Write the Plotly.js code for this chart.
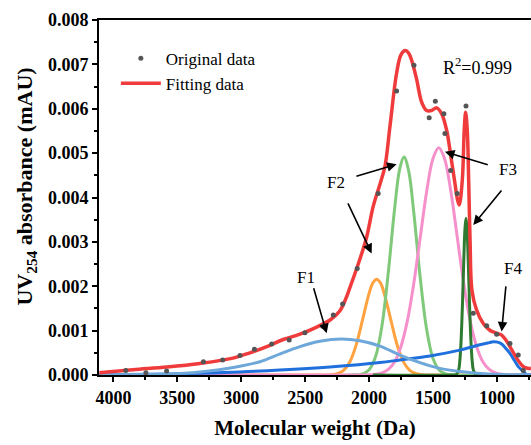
<!DOCTYPE html>
<html><head><meta charset="utf-8">
<script src="https://cdn.plot.ly/plotly-3.0.1.min.js"></script>
<style>html,body{margin:0;padding:0;background:#fff}#chart{width:531px;height:445px}</style>
</head><body><div id="chart"></div>
<script>
// Original data (dots)
const origX = [3903, 3746, 3584, 3296, 3146, 3010, 2897, 2762, 2625, 2502, 2363, 2280, 2207, 2093, 1929, 1785, 1649, 1530, 1482, 1415, 1407, 1362, 1311, 1242, 1185, 1080, 1002, 898, 833, 794];
const origY = [0.0001, 0.00005, 0.00009, 0.0003, 0.00034, 0.00044, 0.00058, 0.0007, 0.00079, 0.00095, 0.0011, 0.00135, 0.0016, 0.0024, 0.00409, 0.0064, 0.00698, 0.0058, 0.00617, 0.00589, 0.00544, 0.00461, 0.00409, 0.00606, 0.00139, 0.00111, 0.00092, 0.00071, 0.00045, 0.0001];

// Fitting data (red)
const fitX = [4110, 3847, 3581, 3323, 3065, 2932, 2800, 2672, 2541, 2410, 2300, 2228, 2185, 2150, 2085, 2020, 1968, 1915, 1876, 1837, 1785, 1750, 1716, 1690, 1667, 1628, 1589, 1550, 1511, 1472, 1433, 1393, 1360, 1330, 1310, 1295, 1271, 1256, 1245, 1232, 1221, 1210, 1195, 1159, 1107, 1060, 1029, 990, 963, 930, 898, 846, 794, 760, 734];
const fitY = [0.00005, 0.00012, 0.00018, 0.00026, 0.00038, 0.0005, 0.00064, 0.0008, 0.00092, 0.00108, 0.00125, 0.00145, 0.0017, 0.00197, 0.0025, 0.0031, 0.0038, 0.0043, 0.0047, 0.0056, 0.0068, 0.00722, 0.00731, 0.00725, 0.00709, 0.00666, 0.00615, 0.00596, 0.00596, 0.00602, 0.00589, 0.00551, 0.00492, 0.00435, 0.00397, 0.00383, 0.00439, 0.00551, 0.00592, 0.00551, 0.00439, 0.0030, 0.0019, 0.00146, 0.00116, 0.00102, 0.00097, 0.00093, 0.0009, 0.00079, 0.00064, 0.00038, 0.00019, 0.00015, 0.00015];

// F1 (light blue)
const f1X = [4110, 3800, 3584, 3323, 3063, 2854, 2700, 2541, 2385, 2215, 2072, 1915, 1759, 1602, 1446, 1289, 1100, 950, 734];
const f1Y = [0.000005, 0.00001, 0.00002, 0.00007, 0.00017, 0.0003, 0.00047, 0.00064, 0.00076, 0.00081, 0.00077, 0.00065, 0.00045, 0.00028, 0.00015, 0.00008, 0.00003, 0.00001, 0.000003];

// F2 (orange)
const f2aX = [4110, 2400, 2300, 2250, 2200, 2150, 2100, 2050, 2000, 1970, 1941, 1910, 1880, 1830, 1780, 1730, 1680, 1630, 1580, 1500, 734];
const f2aY = [0, 0, 0.000006, 0.000028, 0.000103, 0.0003, 0.00069, 0.00126, 0.00184, 0.00208, 0.00216, 0.00207, 0.00182, 0.00124, 0.00067, 0.00029, 0.000098, 0.000027, 0.000005, 0, 0];

// F2 (light green)
const f2bX = [4110, 2150, 2050, 2000, 1950, 1900, 1850, 1800, 1760, 1727, 1690, 1650, 1600, 1550, 1500, 1450, 1400, 1330, 734];
const f2bY = [0, 0, 0.000027, 0.000118, 0.00041, 0.0011, 0.00231, 0.00376, 0.00465, 0.00491, 0.00459, 0.00365, 0.00219, 0.00103, 0.00037, 0.000106, 0.000023, 0, 0];

// F3 (pink)
const f3aX = [4110, 2050, 2000, 1950, 1900, 1850, 1800, 1750, 1700, 1650, 1600, 1550, 1500, 1455, 1410, 1360, 1310, 1260, 1210, 1160, 1110, 1060, 1010, 960, 900, 734];
const f3aY = [0, 0, 0.000004, 0.000015, 0.000046, 0.000125, 0.0003, 0.00065, 0.00123, 0.00207, 0.0031, 0.00413, 0.00488, 0.00512, 0.00488, 0.00413, 0.0031, 0.00207, 0.00123, 0.00065, 0.0003, 0.000125, 0.000046, 0.000015, 0.000003, 0];

// F3 (dark green)
const f3bX = [1970, 1340, 1320, 1300, 1290, 1280, 1270, 1260, 1250, 1242, 1234, 1224, 1214, 1204, 1194, 1184, 1164, 1100];
const f3bY = [0, 0, 0.000006, 0.00011, 0.00033, 0.0008, 0.00157, 0.00252, 0.0033, 0.00353, 0.0033, 0.00252, 0.00157, 0.0008, 0.00033, 0.00011, 0.000006, 0];

// F4 (blue)
const f4X = [4110, 3480, 3010, 2698, 2306, 1915, 1759, 1524, 1290, 1134, 1060, 1029, 995, 963, 930, 898, 866, 833, 794, 765, 734];
const f4Y = [0.00001, 0.00003, 0.00007, 0.00011, 0.00018, 0.00028, 0.00034, 0.00043, 0.00056, 0.00068, 0.00073, 0.00075, 0.00074, 0.0007, 0.0006, 0.00049, 0.00034, 0.00019, 0.00008, 0.00001, 0];

// Ticks
const xTicks = [4000, 3500, 3000, 2500, 2000, 1500, 1000];
const yTicks = [0, 0.001, 0.002, 0.003, 0.004, 0.005, 0.006, 0.007, 0.008];
const yTickLabels = ['0.000', '0.001', '0.002', '0.003', '0.004', '0.005', '0.006', '0.007', '0.008'];

const FONT = 'Liberation Serif, "Times New Roman", serif';
const LW = 3;
function comp(x, y, color, name) {
  return {x: x, y: y, type: 'scatter', mode: 'lines', name: name, showlegend: false,
    line: {color: color, width: LW, shape: 'spline', smoothing: 1}, hoverinfo: 'skip'};
}
const data = [
  comp(f2aX, f2aY, '#ffa23f', 'F2a'),
  comp(f2bX, f2bY, '#80c97b', 'F2b'),
  comp(f3aX, f3aY, '#f590cb', 'F3a'),
  comp(f3bX, f3bY, '#2e7a30', 'F3b'),
  comp(f4X, f4Y, '#1f6fdd', 'F4'),
  comp(f1X, f1Y, '#6ea7d9', 'F1'),
  {x: fitX, y: fitY, type: 'scatter', mode: 'lines', name: 'Fitting data', legendrank: 2,
   line: {color: '#ef3b3b', width: 3.5, shape: 'spline', smoothing: 1}},
  {x: origX, y: origY, type: 'scatter', mode: 'markers', name: 'Original data', legendrank: 1,
   marker: {color: '#555555', size: 5}}
];

const tf = {family: FONT, size: 18, color: '#000', weight: 'bold'};
const lab = (text, x, y) => ({text: text, x: x, y: y, xref: 'x', yref: 'y', showarrow: false,
  font: {family: FONT, size: 17, color: '#000'}});
const arr = (x, y, ax, ay) => ({text: '', x: x, y: y, ax: ax, ay: ay, xref: 'x', yref: 'y', axref: 'x', ayref: 'y',
  showarrow: true, arrowhead: 2, arrowsize: 1.2, arrowwidth: 1.6, arrowcolor: '#000', standoff: 0, startstandoff: 0,
  font: {size: 1}});

const layout = {
  width: 531, height: 445,
  margin: {l: 99, r: 0, t: 20, b: 70},
  paper_bgcolor: '#fff', plot_bgcolor: '#fff',
  showlegend: true,
  legend: {x: 0.039, y: 0.942, xanchor: 'left', yanchor: 'top', bgcolor: 'rgba(0,0,0,0)',
    font: {family: FONT, size: 17, color: '#000'}, tracegroupgap: 0, itemwidth: 40},
  xaxis: {
    range: [4113, 733.5], tickmode: 'array', tickvals: xTicks, ticktext: xTicks.map(String),
    ticks: 'outside', ticklen: 5, tickwidth: 2, tickcolor: '#000',
    showline: true, linewidth: 2, linecolor: '#000', mirror: true, showgrid: false, zeroline: false,
    tickfont: tf,
    minor: {dtick: 250, tick0: 0, ticks: 'outside', ticklen: 3, tickwidth: 2, tickcolor: '#000', showgrid: false},
    title: {text: '<b>Molecular weight (Da)</b>', font: {family: FONT, size: 21, color: '#000'}, standoff: 14}
  },
  yaxis: {
    range: [0, 0.008], tickmode: 'array', tickvals: yTicks, ticktext: yTickLabels,
    ticks: 'outside', ticklen: 5, tickwidth: 2, tickcolor: '#000',
    showline: true, linewidth: 2, linecolor: '#000', mirror: false, showgrid: false, zeroline: false,
    tickfont: tf,
    minor: {dtick: 0.0005, tick0: 0, ticks: 'outside', ticklen: 3, tickwidth: 2, tickcolor: '#000', showgrid: false},
    title: {text: '&nbsp;&nbsp;&nbsp;&nbsp;<b>UV<sub>254</sub> absorbance (mAU)</b>', font: {family: FONT, size: 22, color: '#000'}, standoff: 9}
  },
  annotations: [
    {text: 'R<sup>2</sup>=0.999', x: 1149, y: 0.00696, xref: 'x', yref: 'y', showarrow: false,
     font: {family: FONT, size: 18, color: '#000'}},
    lab('F1', 2494, 0.00219),
    lab('F2', 2259, 0.00433),
    lab('F3', 914, 0.00462),
    lab('F4', 875, 0.00239),
    arr(2332, 0.00094, 2437, 0.00199),
    arr(1785, 0.00475, 2111, 0.00447),
    arr(1980, 0.00274, 2171, 0.0039),
    arr(1407, 0.00503, 1060, 0.00473),
    arr(1185, 0.00338, 955, 0.00419),
    arr(963, 0.00098, 929, 0.00203)
  ]
};
Plotly.newPlot('chart', data, layout, {displayModeBar: false, staticPlot: true});
</script>
</body></html>
